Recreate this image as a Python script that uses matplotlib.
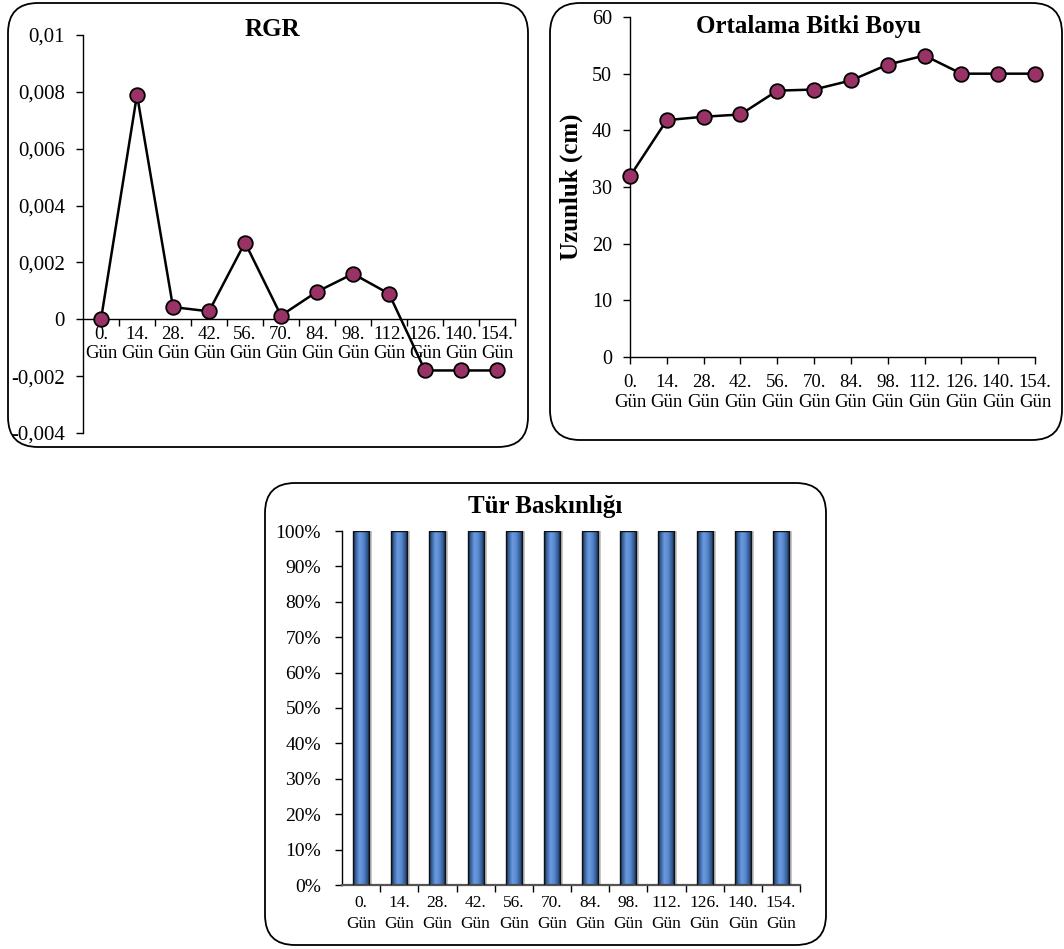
import numpy as np
import matplotlib
matplotlib.use("Agg")
import matplotlib.pyplot as plt
from matplotlib.patches import FancyBboxPatch
from matplotlib.colors import LinearSegmentedColormap
from matplotlib.ticker import FixedLocator, PercentFormatter

plt.rcParams['font.family'] = ['Liberation Serif', 'DejaVu Serif']

days = ["0.", "14.", "28.", "42.", "56.", "70.", "84.", "98.", "112.", "126.", "140.", "154."]
day_labels = [d + "\nGün" for d in days]

rgr = [0.0, 0.0079, 0.00043, 0.00028, 0.0027, 0.00013, 0.00097, 0.0016, 0.0009,
       -0.0018, -0.0018, -0.0018]
plant_height = [31.9, 41.8, 42.4, 42.8, 47.0, 47.2, 48.8, 51.6, 53.2, 50.0, 50.0, 50.0]
dominance = [1.0] * 12

rgr_ticks = [-0.004, -0.002, 0, 0.002, 0.004, 0.006, 0.008, 0.01]
rgr_ticklabels = ["-0,004", "-0,002", "0", "0,002", "0,004", "0,006", "0,008", "0,01"]

W, H = 1064, 949
fig = plt.figure(figsize=(W / 100, H / 100), dpi=100)
fig.patch.set_facecolor("white")

MARKER_FC = "#993366"


def frame(x0, y0, x1, y1):
    """Rounded chart frame, coordinates in pixels from the top-left."""
    box = FancyBboxPatch((x0 / 100, (H - y1) / 100), (x1 - x0) / 100, (y1 - y0) / 100,
                         boxstyle="round,pad=0,rounding_size=0.3",
                         transform=fig.dpi_scale_trans, facecolor="none",
                         edgecolor="black", linewidth=1.3, zorder=0)
    fig.add_artist(box)


def axes_px(l, t, r, b):
    return fig.add_axes([l / W, (H - b) / H, (r - l) / W, (b - t) / H])


def style_axes(ax, ysize, ypad):
    for s in ("top", "right"):
        ax.spines[s].set_visible(False)
    for s in ("left", "bottom"):
        ax.spines[s].set_linewidth(1.0)
    ax.tick_params(axis="y", direction="out", length=5, width=1.0,
                   labelsize=ysize, pad=ypad)
    ax.patch.set_alpha(0)


def category_ticks(ax, n, xsize, spacing, pad):
    ax.xaxis.set_major_locator(FixedLocator(np.arange(0.5, n, 1.0)))
    ax.xaxis.set_major_formatter(plt.NullFormatter())
    ax.xaxis.set_minor_locator(FixedLocator(np.arange(n)))
    ax.set_xticklabels(day_labels, minor=True, fontsize=xsize, linespacing=spacing)
    ax.tick_params(axis="x", which="major", direction="out", length=5, width=1.0)
    ax.tick_params(axis="x", which="minor", length=0, pad=pad)


# ---- RGR ----
frame(8, 3, 528, 447)
ax1 = axes_px(83, 35, 515, 433)
style_axes(ax1, 15, 8)
x = np.arange(len(days))
ax1.plot(x, rgr, color="black", lw=1.8, marker="o", ms=10.5,
         mfc=MARKER_FC, mec="black", mew=1.3, zorder=3, clip_on=False)
ax1.set_xlim(-0.5, 11.5)
ax1.set_ylim(-0.004, 0.01)
ax1.set_yticks(rgr_ticks)
ax1.set_yticklabels(rgr_ticklabels)
ax1.spines["bottom"].set_position(("data", 0))
category_ticks(ax1, len(days), 13.5, 1.1, 5)
fig.text(272 / W, 1 - 29 / H, "RGR", ha="center", va="center",
         fontsize=18, fontweight="bold")

# ---- Ortalama Bitki Boyu ----
frame(550, 3, 1062, 440)
ax2 = axes_px(630, 17, 1035, 357)
style_axes(ax2, 14.5, 8)
ax2.plot(x, plant_height, color="black", lw=1.8, marker="o", ms=10.5,
         mfc=MARKER_FC, mec="black", mew=1.3, zorder=3, clip_on=False)
ax2.set_xlim(0, 11)
ax2.set_ylim(0, 60)
ax2.set_yticks(range(0, 61, 10))
ax2.set_xticks(x)
ax2.set_xticklabels(day_labels, fontsize=13.5, linespacing=1.25)
ax2.tick_params(axis="x", direction="out", length=5, width=1.0, pad=7)
fig.text(808 / W, 1 - 26 / H, "Ortalama Bitki Boyu", ha="center", va="center",
         fontsize=18, fontweight="bold")
fig.text(571 / W, 1 - 187 / H, "Uzunluk (cm)", ha="center", va="center",
         rotation=90, fontsize=18, fontweight="bold")

# ---- Tür Baskınlığı ----
frame(265, 483, 826, 945)
ax3 = axes_px(342, 531, 800, 885)
style_axes(ax3, 14, 10)
ax3.spines["bottom"].set_color("#555555")
ax3.spines["bottom"].set_linewidth(1.6)
bar_w = 0.42
cyl = LinearSegmentedColormap.from_list(
    "cyl", [(0.0, "#15243c"), (0.15, "#345f9a"), (0.38, "#6a9ade"),
            (0.6, "#5a8bd0"), (0.85, "#2f5690"), (1.0, "#121f35")])
grad = np.linspace(0, 1, 64).reshape(1, -1)
# soft shadow to the right of each bar
ax3.bar(x + 0.08, dominance, width=bar_w, color="#c8c8c8", zorder=1)
bars = ax3.bar(x, dominance, width=bar_w, facecolor="none", edgecolor="#111111",
               linewidth=1.0, zorder=3)
for p in bars:
    x0, w, h = p.get_x(), p.get_width(), p.get_height()
    im = ax3.imshow(grad, extent=(x0, x0 + w, 0, h), cmap=cyl, aspect="auto",
                    interpolation="bilinear", zorder=2)
    im.set_clip_path(p)
ax3.set_xlim(-0.5, 11.5)
ax3.set_ylim(0, 1)
ax3.set_yticks(np.linspace(0, 1, 11))
ax3.yaxis.set_major_formatter(PercentFormatter(1.0, decimals=0))
category_ticks(ax3, len(days), 12.5, 1.4, 7)
fig.text(545 / W, 1 - 507 / H, "Tür Baskınlığı", ha="center", va="center",
         fontsize=18, fontweight="bold")

fig.savefig("out.png", dpi=100, facecolor="white")
